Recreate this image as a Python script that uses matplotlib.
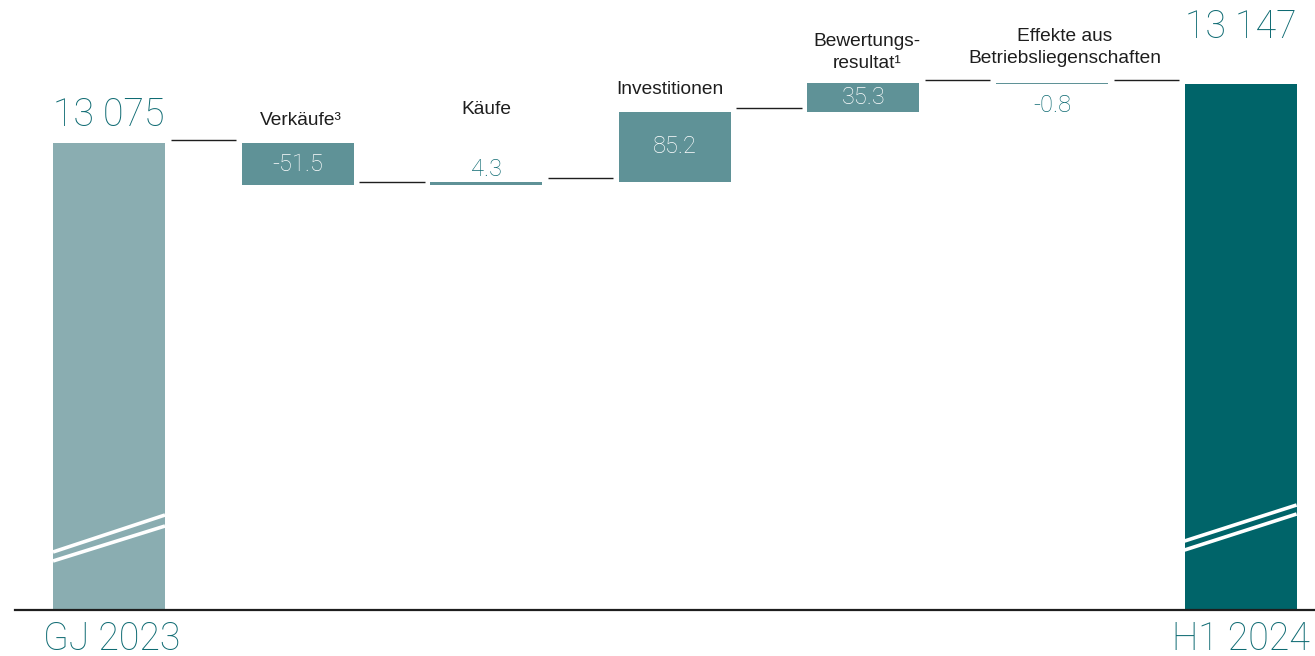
import matplotlib
matplotlib.use("Agg")
import matplotlib.pyplot as plt
import matplotlib.transforms as mtransforms

# Data: property portfolio value bridge (CHF m)
start_label = "GJ 2023"
end_label = "H1 2024"
start_value = 13075
end_value = 13147
steps = ["Verkäufe³", "Käufe", "Investitionen", "Bewertungs-\nresultat¹",
         "Effekte aus\nBetriebsliegenschaften"]
changes = [-51.5, 4.3, 85.2, 35.3, -0.8]

# Styling
C_START = "#8aadb1"
C_STEP = "#5f9297"
C_END = "#006469"
C_TEXT = "#0f6b73"
C_DARK = "#1e1e1e"
FONT = "Roboto"
FONT_SMALL = "Liberation Sans"

W, H, DPI = 1315, 656, 100
PX_PER_UNIT = 0.818
AX_BOTTOM_PX = 46
AX_HEIGHT_PX = 610
BAR_WIDTH = 0.594

def pt(px):
    return px * 72.0 / DPI

fig = plt.figure(figsize=(W / DPI, H / DPI), dpi=DPI)
ax = fig.add_axes([0, AX_BOTTOM_PX / H, 1, AX_HEIGHT_PX / H])
ax.set_axis_off()

base = start_value - (AX_HEIGHT_PX - 143) / PX_PER_UNIT
ax.set_ylim(base, base + AX_HEIGHT_PX / PX_PER_UNIT)
spacing_px = 188.6
ax.set_xlim(-109 / spacing_px, (W - 109) / spacing_px)

n = len(changes)
x_start = 0
x_end = n + 1

# Totals
ax.bar(x_start, start_value - base, bottom=base, width=BAR_WIDTH, color=C_START, lw=0)
ax.bar(x_end, end_value - base, bottom=base, width=BAR_WIDTH, color=C_END, lw=0)

# Step bars
level = start_value
levels = [start_value]
for i, ch in enumerate(changes):
    x = i + 1
    bottom = level if ch >= 0 else level + ch
    h = abs(ch)
    ax.bar(x, h, bottom=bottom, width=BAR_WIDTH, color=C_STEP, lw=0)
    level += ch
    levels.append(level)

# Connector lines between bars (slightly raised)
up = mtransforms.ScaledTranslation(0, 3.5 / DPI, fig.dpi_scale_trans)
gap = 5.5 / spacing_px
for i, lv in enumerate(levels):
    x0 = i + BAR_WIDTH / 2 + gap
    x1 = i + 1 - BAR_WIDTH / 2 - gap
    ax.plot([x0, x1], [lv, lv], color=C_DARK, lw=1.0,
            transform=ax.transData + up, solid_capstyle="butt")

# Baseline
ax.axhline(base, xmin=15 / W, xmax=1, color=C_DARK, lw=1.6, clip_on=False)

# Axis break marks on the total bars
def break_marks(x, left_px, right_px):
    for lp, rp in zip(left_px, right_px):
        yl = base + lp / PX_PER_UNIT
        yr = base + rp / PX_PER_UNIT
        ax.plot([x - BAR_WIDTH / 2, x + BAR_WIDTH / 2], [yl, yr],
                color="white", lw=2.6, solid_capstyle="butt")

break_marks(x_start, [58, 49], [95, 84])
break_marks(x_end, [69, 60], [105, 96])

big = dict(fontsize=27, color=C_TEXT, fontfamily=FONT, fontweight="light")
mid = dict(fontsize=17, fontfamily=FONT, fontweight="light")
small = dict(fontsize=13.8, color=C_DARK, fontfamily=FONT_SMALL, fontweight="normal",
             ha="center", linespacing=1.4)

# Total labels
ax.annotate(f"{start_value:,}".replace(",", " "), (x_start, start_value),
            xytext=(0, pt(17)), textcoords="offset points",
            ha="center", va="baseline", **big)
ax.annotate(f"{end_value:,}".replace(",", " "), (x_end, end_value),
            xytext=(0, pt(46)), textcoords="offset points",
            ha="center", va="baseline", **big)
ax.annotate(start_label, (x_start, base), xytext=(pt(3), -pt(11)),
            textcoords="offset points", ha="center", va="top", **big)
ax.annotate(end_label, (x_end, base), xytext=(0, -pt(11)),
            textcoords="offset points", ha="center", va="top", **big)

# Step labels
cat_offsets_px = [18, 68, 18, 15, 20]
cat_dx_px = [3, 0, -5, 4, 13]
level = start_value
for i, (name, ch) in enumerate(zip(steps, changes)):
    x = i + 1
    top = max(level, level + ch)
    ax.annotate(name, (x, top), xytext=(pt(cat_dx_px[i]), pt(cat_offsets_px[i])),
                textcoords="offset points", va="baseline", **small)
    txt = f"{ch:.1f}"
    h_px = abs(ch) * PX_PER_UNIT
    if h_px > 20:
        ax.text(x, level + ch / 2, txt, ha="center", va="center",
                color="white", **mid)
    elif ch >= 0:
        ax.annotate(txt, (x, top), xytext=(0, pt(6)), textcoords="offset points",
                    ha="center", va="baseline", color=C_TEXT, **mid)
    else:
        ax.annotate(txt, (x, level + ch), xytext=(0, -pt(10)),
                    textcoords="offset points", ha="center", va="top",
                    color=C_TEXT, **mid)
    level += ch

fig.savefig("out.png", dpi=DPI, facecolor="white")
